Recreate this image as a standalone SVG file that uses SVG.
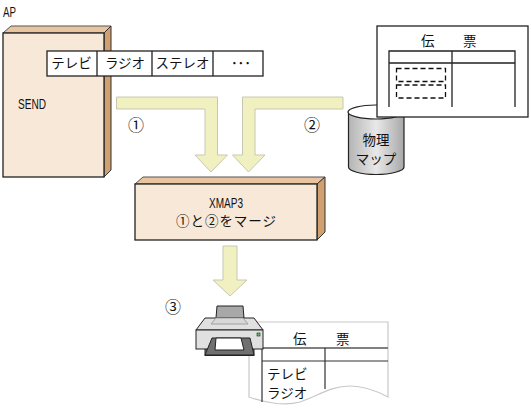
<svg xmlns="http://www.w3.org/2000/svg" width="531" height="409" viewBox="0 0 531 409">
<style>
text{font-family:"Noto Sans CJK JP","Noto Sans",sans-serif;font-size:13.500px;fill:#111}
.l{font-family:"Liberation Sans",sans-serif;font-size:15px}
.n{font-size:16px}
.m{text-anchor:middle}
.front{fill:#f8e8d8;stroke:#222;stroke-width:1.300}
.top{fill:#e8c4a0;stroke:#555;stroke-width:1}
.side{fill:#d0a070;stroke:#333;stroke-width:1}
.arrow{fill:#f0f0c0;stroke:#c8c8b0;stroke-width:1}
.ln{stroke:#222;stroke-width:1.300;fill:none}
</style>
<defs>
<linearGradient id="cyl" x1="0" x2="1" y1="0" y2="0"><stop offset="0" stop-color="#b4b4b4"/><stop offset=".5" stop-color="#e8e8e8"/><stop offset="1" stop-color="#a8a8a8"/></linearGradient>
</defs>
<text class="l" x="3" y="17" textLength="13" lengthAdjust="spacingAndGlyphs">AP</text>
<g id="send">
<polygon class="top" points="3,33 11,26 111,26 104,33"/>
<polygon class="side" points="104,33 111,26 111,170 104,177"/>
<rect class="front" x="3" y="33" width="101" height="144"/>
<text class="l" x="18" y="109" textLength="28" lengthAdjust="spacingAndGlyphs">SEND</text>
</g>
<g id="field-bar">
<rect x="47" y="51" width="216" height="25" fill="#fff" stroke="#222" stroke-width="1.300"/>
<path class="ln" d="M97 51V76M152 51V76M213 51V76"/>
<text class="m" x="71.500" y="68">テレビ</text>
<text class="m" x="125" y="68">ラジオ</text>
<text class="m" x="182.500" y="68">ステレオ</text>
<text class="m" x="241" y="68">･･･</text>
</g>
<g id="connectors">
<polygon class="arrow" points="116.500,97 217.500,97 217.500,155 227.500,155 211,172 195,155 205,155 205,109 116.500,109"/>
<polygon class="arrow" points="343,97 242.500,97 242.500,155 232.500,155 248.500,172 265,155 255,155 255,109 343,109"/>
<polygon class="arrow" points="223,246 237,246 237,280 247,280 230,296 213,280 223,280"/>
</g>
<text class="m n" x="136" y="131">①</text>
<text class="m n" x="312" y="131">②</text>
<text class="m n" x="173" y="313">③</text>
<g id="cylinder">
<path d="M348.500 112V167C348.500 171 361 174.500 376 174.500S404 171 404 167V112Z" fill="url(#cyl)" stroke="#222" stroke-width="1.200"/>
<ellipse cx="376" cy="112" rx="28" ry="7" fill="#fff" stroke="#222" stroke-width="1.200"/>
<text class="m" x="376" y="145">物理</text>
<text class="m" x="376" y="164">マップ</text>
</g>
<g id="form">
<rect x="377" y="26" width="151" height="91" fill="#fff" stroke="#222" stroke-width="1.300"/>
<text x="421" y="46">伝</text>
<text x="463" y="46">票</text>
<path class="ln" d="M389 107V51H515V107M389 63H515M452 51V107"/>
<g fill="none" stroke="#111" stroke-width="1.300" stroke-dasharray="5 3">
<rect x="396.500" y="68.500" width="49" height="13"/>
<rect x="396.500" y="85" width="49" height="13"/>
</g>
</g>
<g id="xmap3">
<polygon class="top" points="135,184 143,177 325,177 317,184"/>
<polygon class="side" points="317,184 325,177 325,232 317,240"/>
<rect class="front" x="135" y="184" width="182" height="56"/>
<text class="l m" x="226" y="208" textLength="34" lengthAdjust="spacingAndGlyphs">XMAP3</text>
<text class="m" x="226" y="226" textLength="100">①と②をマージ</text>
</g>
<g id="paper">
<path d="M249 322H388V397C375 390 362 386 350 386C330 386 318 396 300 402C285 406 265 403 249 397Z" fill="#fff" stroke="#c8c8c8" stroke-width="1.200"/>
<path d="M262 348H388" stroke="#808080" stroke-width="2"/>
<path d="M262 361H388" stroke="#333" stroke-width="1.200"/>
<path d="M262 348V402M325 348V389" stroke="#333" stroke-width="1.200"/>
<text x="293" y="344">伝</text>
<text x="336" y="344">票</text>
<text x="267" y="378.500">テレビ</text>
<text x="267" y="398">ラジオ</text>
</g>
<g id="printer">
<polygon points="217,306 243,306 244,318 216,318" fill="#a8a8a8" stroke="#222"/>
<polygon points="196,330 205,318 254,318 263,330" fill="#e0e0e0" stroke="#222"/>
<path d="M211 324L216 318H243L248 324Z" fill="#d8d8d8" stroke="#a0a0a0"/>
<rect x="205" y="349" width="49" height="6.500" fill="#808080" stroke="#222"/>
<rect x="196" y="330" width="67" height="19" fill="#e0e0e0" stroke="#222"/>
<polygon points="212,338 250,338 254,355 205,355" fill="#707070" stroke="#222"/>
<polygon points="216,338 241,338 244,350 215,350" fill="#fff" stroke="#222"/>
<rect x="257" y="333" width="3" height="3" fill="#50d050" stroke="#222" stroke-width=".6"/>
</g>
</svg>
